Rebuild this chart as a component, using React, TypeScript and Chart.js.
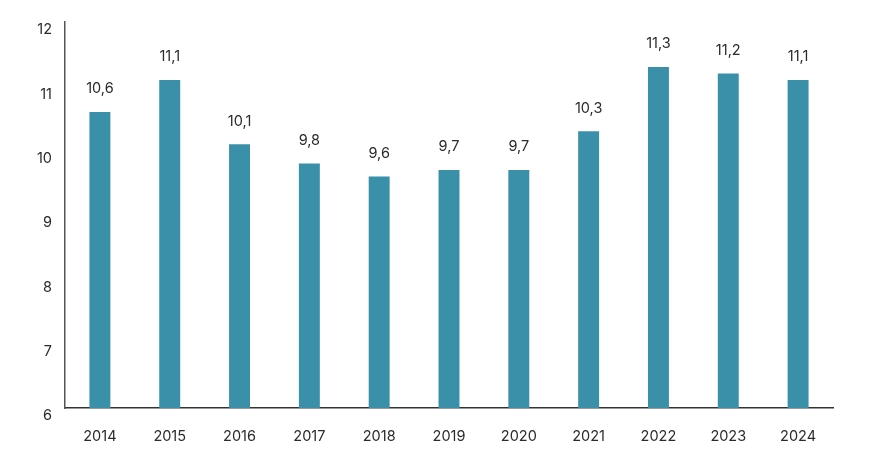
import React, { useEffect, useRef } from "react";
import { Chart, registerables } from "chart.js";

Chart.register(...registerables);

const years = ["2014", "2015", "2016", "2017", "2018", "2019", "2020", "2021", "2022", "2023", "2024"];
const values = [10.6, 11.1, 10.1, 9.8, 9.6, 9.7, 9.7, 10.3, 11.3, 11.2, 11.1];
const yMin = 6;
const yMax = 12;

const FONT = "Inter, 'DejaVu Sans', sans-serif";
const TEXT = "#2b2b2b";
const BAR = "#3a8fa9";

const valueLabels = {
  id: "valueLabels",
  afterDatasetsDraw(chart: any) {
    const ctx = chart.ctx;
    const meta = chart.getDatasetMeta(0);
    ctx.save();
    ctx.font = `14.5px ${FONT}`;
    ctx.fillStyle = TEXT;
    ctx.textAlign = "center";
    ctx.textBaseline = "middle";
    meta.data.forEach((bar: any, i: number) => {
      const label = values[i].toFixed(1).replace(".", ",");
      ctx.fillText(label, bar.x, bar.y - 23);
    });
    ctx.restore();
  },
};

export default function App() {
  const ref = useRef<HTMLCanvasElement | null>(null);
  useEffect(() => {
    document.body.style.margin = "0";
    if (!ref.current) return;
    const chart = new Chart(ref.current, {
      type: "bar",
      data: {
        labels: years,
        datasets: [
          {
            data: values,
            backgroundColor: BAR,
            barPercentage: 0.3,
            categoryPercentage: 1,
          },
        ],
      },
      options: {
        responsive: false,
        animation: false,
        layout: { padding: { left: 0, right: 44, top: 22, bottom: 0 } },
        plugins: { legend: { display: false }, tooltip: { enabled: false } },
        scales: {
          x: {
            grid: { display: false, drawTicks: false },
            border: { display: true, color: "#333333", width: 1.5 },
            ticks: { color: TEXT, font: { family: FONT, size: 14.5 }, padding: 20 },
            afterFit: (s: any) => {
              s.height = 54;
            },
          },
          y: {
            min: yMin,
            max: yMax,
            grid: { display: false, drawTicks: false },
            border: { display: true, color: "#555555", width: 1.5 },
            ticks: {
              stepSize: 1,
              color: TEXT,
              font: { family: FONT, size: 14.5 },
              padding: 13,
              labelOffset: 8,
            },
            afterFit: (s: any) => {
              s.width = 65;
            },
          },
        },
      },
      plugins: [valueLabels],
    });
    return () => chart.destroy();
  }, []);
  return (
    <div style={{ width: 877, height: 462 }}>
      <canvas ref={ref} width={877} height={462} />
    </div>
  );
}
